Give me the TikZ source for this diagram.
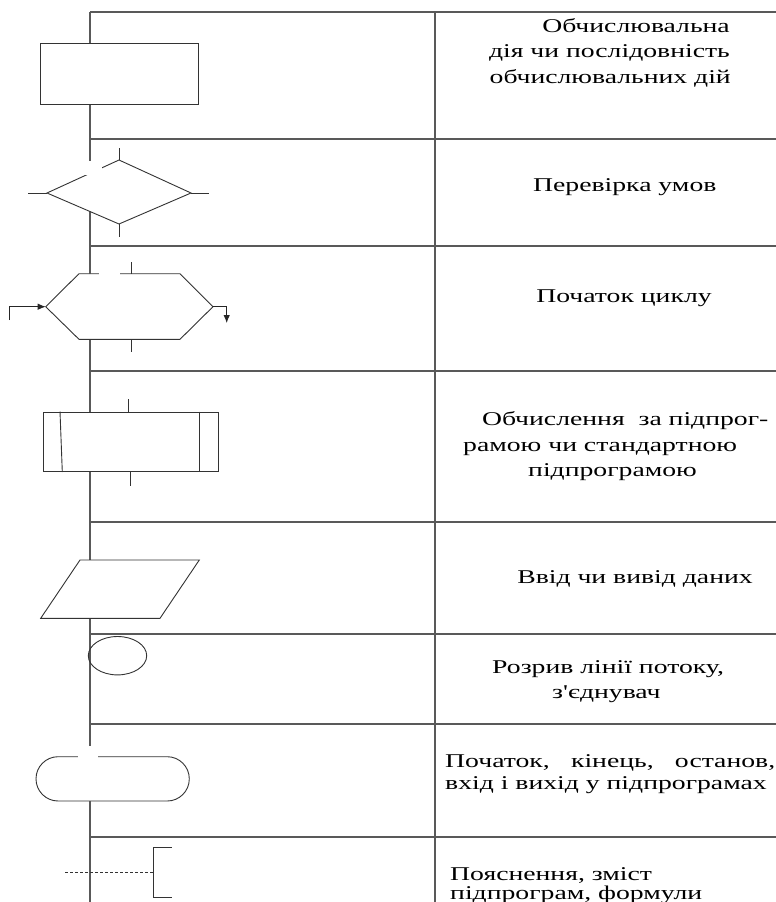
\documentclass[tikz,border=0pt]{standalone}
\usepackage{fontspec}
\setmainfont{Liberation Serif}
\newfontfamily\wide[FakeStretch=1.42]{Liberation Serif}
\usetikzlibrary{arrows.meta}
\tikzset{
  grid/.style={line width=1.4pt, draw=black!65},
  shp/.style={line width=0.9pt, draw=black!80},
  shpw/.style={shp, fill=white},
  txt/.style={inner sep=0pt, font=\wide\fontsize{19.5}{23}\selectfont, text=black},
  arr/.style={line width=0.9pt, draw=black!85, -{Latex[length=8pt,width=6.5pt]}},
  patch/.style={fill=white, draw=none}
}
\begin{document}
\begin{tikzpicture}[x=1pt,y=-1pt]
\useasboundingbox (0,0) rectangle (776,902);
% table grid
\coordinate (top0) at (90,12);
\coordinate (bot0) at (90,902);
\coordinate (top1) at (435,12);
\coordinate (bot1) at (435,902);
\draw[grid] (top0) -- (bot0);
\draw[grid] (top1) -- (bot1);
\foreach \yy [count=\i] in {12,139,246,371,522,634,724,837}{
  \coordinate (hl\i) at (90,\yy);
  \coordinate (hr\i) at (776,\yy);
  \draw[grid] (hl\i) -- (hr\i);
}
% 1 process
\draw[shpw] (40,43) rectangle (198,104);
% 2 decision
\coordinate (dT) at (119,160);
\coordinate (dB) at (119,224);
\coordinate (dL) at (47,193);
\coordinate (dR) at (191,193);
\draw[shpw] (dL) -- (dT) -- (dR) -- (dB) -- cycle;
\coordinate (dT2) at (119,148);
\coordinate (dB2) at (119,237);
\coordinate (dL2) at (28,193);
\coordinate (dR2) at (209,193);
\draw[shp] (dT) -- (dT2);
\draw[shp] (dB) -- (dB2);
\draw[shp] (dL) -- (dL2);
\draw[shp] (dR) -- (dR2);
\fill[patch] (83,160.5) rectangle (102,175);
% 3 loop start (hexagon)
\coordinate (hL) at (45.7,306.7);
\coordinate (hR) at (213,306.7);
\draw[shpw] (hL) -- (79,273.7) -- (180,273.7) -- (hR) -- (180,339.3) -- (79,339.3) -- cycle;
\fill[patch] (99.3,262.7) rectangle (120,274.6);
\coordinate (hT) at (131.7,273.7);
\coordinate (hT2) at (131.7,261.7);
\coordinate (hB) at (131.7,339.3);
\coordinate (hB2) at (131.7,351.7);
\draw[shp] (hT) -- (hT2);
\draw[shp] (hB) -- (hB2);
\coordinate (inS) at (9,320);
\draw[arr] (inS) -- (9,306.7) -- (hL);
\coordinate (outE) at (226.7,323);
\draw[arr] (hR) -- (226.7,306.7) -- (outE);
% 4 predefined process
\draw[shpw] (43.3,412.7) rectangle (218.3,471.7);
\draw[shp] (60,411.5) -- (62.3,472);
\draw[shp] (199,411.5) -- (199,472);
\coordinate (pT) at (128,412.7);
\coordinate (pT2) at (128,399.3);
\coordinate (pB) at (130.3,471.7);
\coordinate (pB2) at (130.3,486);
\draw[shp] (pT) -- (pT2);
\draw[shp] (pB) -- (pB2);
% 5 input/output
\draw[shpw] (80,560) -- (199.3,560) -- (160,618.3) -- (40.7,618.3) -- cycle;
% 6 connector
\draw[shp] (117.5,655.7) ellipse [x radius=29.2, y radius=19.2];
% 7 terminator
\draw[shpw, rounded corners=22.1pt] (36,756.7) rectangle (189.3,801);
\fill[patch] (78.3,746) rectangle (97.7,757.6);
% 8 annotation
\coordinate (aS) at (65,872.7);
\coordinate (aM) at (153.3,872.7);
\draw[shp, dash pattern=on 3pt off 2pt, line width=0.7pt] (aS) -- (aM);
\draw[shp] (171.7,847.7) -- (153.3,847.7) -- (153.3,897.3) -- (171.7,897.3);
% texts
\node[txt, anchor=base east] (t1a) at (730,32) {Обчислювальна};
\node[txt, anchor=base east] (t1b) at (730,57.5) {дія чи послідовність};
\node[txt, anchor=base east] (t1c) at (731,83) {обчислювальних дій};
\node[txt, anchor=base west] (t2) at (533,191) {Перевірка умов};
\node[txt, anchor=base] (t3) at (624,302) {Початок циклу};
\node[txt, anchor=base west] (t4a) at (482,425) {Обчислення\ \ за підпрог-};
\node[txt, anchor=base west] (t4b) at (463,451) {рамою чи стандартною};
\node[txt, anchor=base west] (t4c) at (528,476) {підпрограмою};
\node[txt, anchor=base] (t5) at (635,583) {Ввід чи вивід даних};
\node[txt, anchor=base west] (t6a) at (492,673) {Розрив лінії потоку,};
\node[txt, anchor=base west] (t6b) at (552,698) {з'єднувач};
\node[txt, anchor=base west] (t7a) at (445,767) {\makebox[330pt][s]{Початок, кінець, останов,}};
\node[txt, anchor=base west] (t7b) at (445,789) {вхід і вихід у підпрограмах};
\node[txt, anchor=base west] (t8a) at (450,880) {Пояснення, зміст};
\node[txt, anchor=base west] (t8b) at (450,899) {підпрограм, формули};
\end{tikzpicture}
\end{document}
